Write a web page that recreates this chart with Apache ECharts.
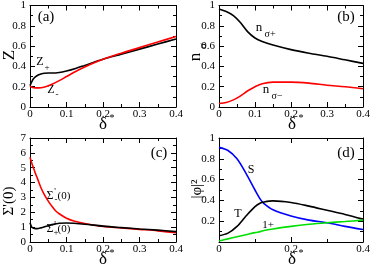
<!DOCTYPE html>
<html><head><meta charset="utf-8">
<script src="https://cdn.jsdelivr.net/npm/echarts@6/dist/echarts.min.js"></script>
<style>html,body{margin:0;padding:0;background:#fff}#c{width:374px;height:270px}</style>
</head><body><div id="c"></div>
<script>
// Panel (a): Z
var xA = [0,0.005,0.01,0.02,0.03,0.04,0.05,0.06,0.08,0.1,0.125,0.15,0.2,0.25,0.3,0.35,0.4];
var zPlus = [0.21,0.25,0.28,0.31,0.325,0.333,0.335,0.335,0.34,0.355,0.38,0.41,0.47,0.52,0.57,0.62,0.67];
var zMinus = [0.205,0.195,0.19,0.188,0.19,0.198,0.21,0.225,0.26,0.3,0.35,0.395,0.47,0.53,0.585,0.64,0.695];
// Panel (b): n_sigma
var xB = [0,0.02,0.04,0.06,0.08,0.1,0.12,0.15,0.2,0.25,0.3,0.35,0.4];
var nPlus = [0.965,0.94,0.9,0.83,0.74,0.68,0.645,0.61,0.565,0.53,0.5,0.465,0.43];
var nMinus = [0.035,0.045,0.07,0.11,0.16,0.2,0.23,0.245,0.245,0.235,0.215,0.2,0.18];
// Panel (c): Sigma'(0)
var xC = [0,0.005,0.01,0.015,0.02,0.03,0.04,0.05,0.06,0.07,0.08,0.1,0.12,0.15,0.2,0.25,0.3,0.35,0.4];
var sigMinus = [5.7,5.3,4.95,4.6,4.3,3.65,3.15,2.75,2.4,2.1,1.9,1.6,1.42,1.25,1.05,0.95,0.85,0.75,0.62];
var sigPlus = [1.3,1.0,0.92,0.9,0.9,0.95,1.02,1.1,1.17,1.22,1.26,1.28,1.26,1.2,1.07,0.97,0.88,0.8,0.7];
// Panel (d): |phi|^2
var xD = [0,0.025,0.05,0.075,0.1,0.115,0.125,0.15,0.2,0.25,0.3,0.35,0.4];
var phiS = [0.91,0.88,0.8,0.66,0.5,0.41,0.37,0.31,0.25,0.21,0.185,0.15,0.12];
var phiT = [0.06,0.085,0.15,0.25,0.34,0.375,0.385,0.395,0.38,0.345,0.305,0.265,0.22];
var phi1 = [0.01,0.03,0.05,0.07,0.09,0.1,0.11,0.125,0.15,0.17,0.185,0.197,0.21];
// axis settings
var xTicksMain = {min:0, max:0.4, interval:0.1};
var xTicksD = {min:0, max:0.4, interval:0.2};
var yTicksUnit = {min:0, max:1, interval:0.2};
var yTicksC = {min:0, max:7, interval:1};

var SERIF = "'Liberation Serif', 'DejaVu Serif', serif";
var grids = [
  {left:30, top:3, width:146, height:104},
  {left:219, top:3, width:144, height:104},
  {left:30, top:138, width:146, height:104},
  {left:219, top:138, width:144, height:104}
];
function axis(gi, pos, sc, showLabel, fmt) {
  return {
    type:'value', gridIndex:gi, position:pos, min:sc.min, max:sc.max, interval:sc.interval,
    axisLine:{show:true, onZero:false, lineStyle:{color:'#000', width:1}},
    axisTick:{show:true, inside:true, length:5, lineStyle:{color:'#000', width:1}},
    minorTick:{show:true, splitNumber:2, length:3, lineStyle:{color:'#000', width:1}},
    splitLine:{show:false},
    axisLabel:{show:showLabel, fontFamily:SERIF, fontSize:11, color:'#000', margin:(pos==='bottom'?2:4),
      formatter: fmt || function(v){return String(+v.toFixed(2));}}
  };
}
var xAxes = [], yAxes = [];
var xsc = [xTicksMain, xTicksMain, xTicksMain, xTicksD];
var ysc = [yTicksUnit, yTicksUnit, yTicksC, yTicksUnit];
for (var g=0; g<4; g++) {
  xAxes.push(axis(g,'bottom',xsc[g],true));
  xAxes.push(axis(g,'top',xsc[g],false));
  var fmt = g===3 ? function(v){return v===0?'':String(+v.toFixed(2));} : null;
  yAxes.push(axis(g,'left',ysc[g],true,fmt));
  yAxes.push(axis(g,'right',ysc[g],false));
}
function pairs(x,y){return x.map(function(v,i){return [v,y[i]];});}
function line(g, x, y, color) {
  return {type:'line', xAxisIndex:2*g, yAxisIndex:2*g, data:pairs(x,y), showSymbol:false,
    smooth:0.3, lineStyle:{color:color, width:1.6}, silent:true, animation:false};
}
var series = [
  line(0,xA,zPlus,'#000'), line(0,xA,zMinus,'#ff0000'),
  line(1,xB,nPlus,'#000'), line(1,xB,nMinus,'#ff0000'),
  line(2,xC,sigMinus,'#ff0000'), line(2,xC,sigPlus,'#000'),
  line(3,xD,phiS,'#0000ff'), line(3,xD,phiT,'#000'), line(3,xD,phi1,'#00e000')
];
function T(x,y,text,size,opts){
  opts = opts||{};
  return {type:'text', x:x, y:y, rotation:opts.rot||0, silent:true,
    style:{text:text, font:(size)+'px '+SERIF, fill:'#000', align:opts.align||'center', verticalAlign:'middle'}};
}
var R = Math.PI/2;
var graphic = [
  // x titles
  T(103,125,'δ',17), T(112,118,'*',10),
  T(292,125,'δ',17), T(301,118,'*',10),
  T(103,260,'δ',17), T(112,253,'*',10),
  T(292,260,'δ',17), T(301,253,'*',10),
  // y titles
  T(10,55,'Z',17,{rot:R}),
  T(196,57,'n',17,{rot:R}), T(203,46,'σ',11,{rot:R}),
  T(9,201,'Σ\'(0)',15,{rot:R}),
  T(197,189,'|φ|²',15,{rot:R}),
  // panel labels
  T(46,17,'(a)',15), T(346,17,'(b)',15), T(159,153,'(c)',15), T(346,153,'(d)',15),
  // annotations
  T(40,62,'Z',12), T(47,68,'+',9),
  T(51,90,'Z',12), T(57,95,'-',9),
  T(259,28,'n',13), T(270,34,'σ+',10),
  T(266,90,'n',13), T(277,96,'σ−',10),
  T(50,196,'Σ',12), T(55,192,'\'',9), T(56,200,'-',9), T(64,196,'(0)',11),
  T(50,229,'Σ',12), T(55,225,'\'',9), T(56,233,'+',9), T(64,229,'(0)',11),
  T(251,170,'S',12), T(238,214,'T',12), T(268,225,'1+',11)
];
var chart = echarts.init(document.getElementById('c'), null, {renderer:'canvas'});
chart.setOption({animation:false, backgroundColor:'#fff', grid:grids, xAxis:xAxes, yAxis:yAxes, series:series, graphic:graphic});
</script></body></html>
